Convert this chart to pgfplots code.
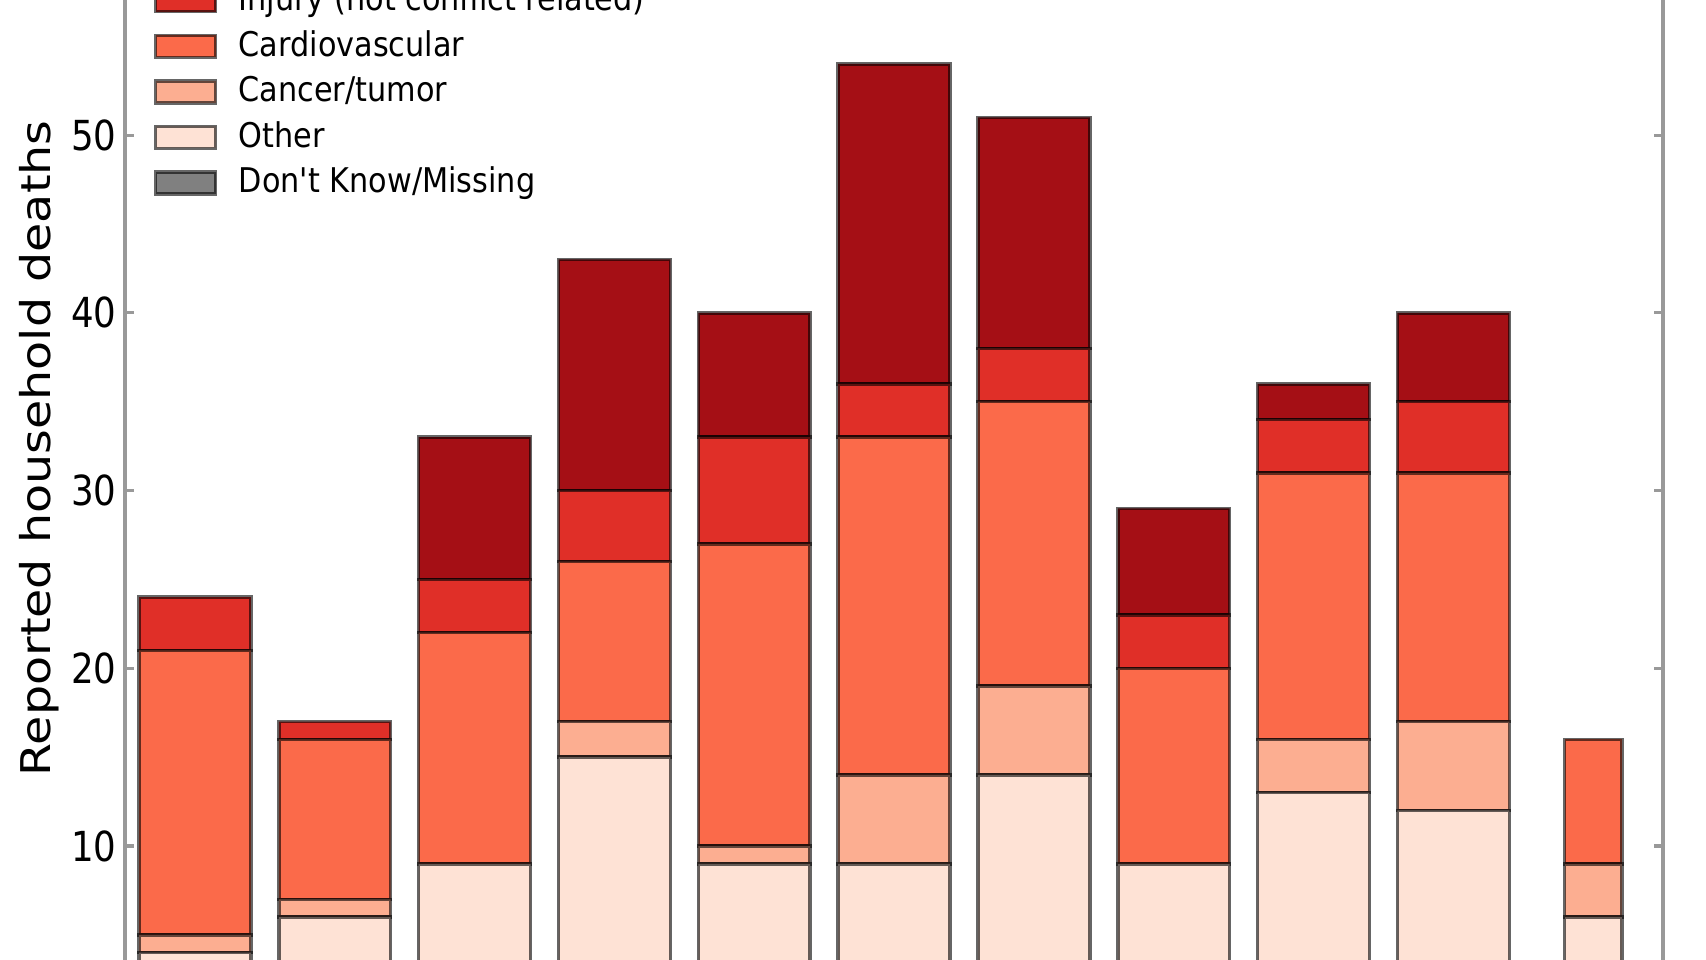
\documentclass[border=0pt]{standalone}
\usepackage{graphicx}
\usepackage{pgfplots}
\pgfplotsset{compat=1.18}
\usepackage{fontspec}
\setmainfont{DejaVu Sans}

\definecolor{cOther}{HTML}{FEE2D5}
\definecolor{cCancer}{HTML}{FCAE91}
\definecolor{cCardio}{HTML}{FB6A4A}
\definecolor{cInjury}{HTML}{E02F28}
\definecolor{cConflict}{HTML}{A50F15}
\definecolor{cDK}{HTML}{808080}

\pgfplotsset{
  seg/.style={fill=#1, draw=black, draw opacity=0.6, line width=0.9pt,
    legend image code/.code={\draw[fill=#1, draw=black, draw opacity=0.6, line width=0.9pt]
      (0cm,-0.1cm) rectangle (0.545cm,0.1cm);}},
  frame/.style={scale only axis, width=13.974cm, height=8.72cm,
    xmin=-0.5, xmax=10.5, ymin=3.6, ymax=57.6, ybar stacked},
}

\begin{document}
\begin{tikzpicture}
\begin{axis}[
  frame,
  bar width=1.016cm,
  separate axis lines,
  x axis line style={draw=none},
  y axis line style={draw=black!40, line width=1.1pt},
  xtick=\empty,
  ytick={10,20,30,40,50},
  /pgf/number format/assume math mode=true,
  yticklabel={\scalebox{0.86}[1]{\pgfmathprintnumber{\tick}}},
  yticklabel style={font=\fontsize{10.7}{12}\selectfont, anchor=east, inner sep=0pt, xshift=-0.07cm},
  ytick style={draw=black!40, line width=0.8pt},
  major tick length=0.08cm,
  ylabel={\scalebox{1.16}[1]{Reported household deaths}},
  every axis y label/.style={at={(axis description cs:-0.0555,0.533)}, anchor=center,
    rotate=90, font=\fontsize{10.6}{12}\selectfont},
]
% stacked from the bottom up
\addplot[seg=cDK] coordinates {(0,0) (1,0) (2,0) (3,0) (4,0) (5,0) (6,0) (7,0) (8,0) (9,0)};
\addplot[seg=cOther] coordinates {(0,4) (1,6) (2,9) (3,15) (4,9) (5,9) (6,14) (7,9) (8,13) (9,12)};
\addplot[seg=cCancer] coordinates {(0,1) (1,1) (2,0) (3,2) (4,1) (5,5) (6,5) (7,0) (8,3) (9,5)};
\addplot[seg=cCardio] coordinates {(0,16) (1,9) (2,13) (3,9) (4,17) (5,19) (6,16) (7,11) (8,15) (9,14)};
\addplot[seg=cInjury] coordinates {(0,3) (1,1) (2,3) (3,4) (4,6) (5,3) (6,3) (7,3) (8,3) (9,4)};
\addplot[seg=cConflict] coordinates {(0,0) (1,0) (2,8) (3,13) (4,7) (5,18) (6,13) (7,6) (8,2) (9,5)};
\coordinate (bl) at (rel axis cs:0,0);
\coordinate (tr) at (rel axis cs:1,1);
\end{axis}
% the last, narrower bar, and the legend
\begin{axis}[frame, hide axis, bar width=0.52cm,
  legend cell align=left,
  legend style={at={(axis description cs:0.0182,1.0184)}, anchor=north west,
    draw=none, fill=none, inner sep=0pt, row sep=0.094cm,
    font=\fontsize{8.8}{10}\selectfont,
    nodes={inner sep=0pt, text height=0.25cm, text depth=0.07cm},
    /tikz/every odd column/.append style={column sep=0.195cm}},
]
\addlegendimage{seg=cInjury}
\addlegendentry{\scalebox{0.89}[1]{Injury (not conflict related)}}
\addlegendimage{seg=cCardio}
\addlegendentry{\scalebox{0.89}[1]{Cardiovascular}}
\addlegendimage{seg=cCancer}
\addlegendentry{\scalebox{0.89}[1]{Cancer/tumor}}
\addlegendimage{seg=cOther}
\addlegendentry{\scalebox{0.89}[1]{Other}}
\addlegendimage{seg=cDK}
\addlegendentry{\scalebox{0.89}[1]{Don\textquotesingle t Know/Missing}}
\addplot[seg=cDK] coordinates {(10,0)};
\addplot[seg=cOther] coordinates {(10,6)};
\addplot[seg=cCancer] coordinates {(10,3)};
\addplot[seg=cCardio] coordinates {(10,7)};
\end{axis}
\pgfresetboundingbox
\path[use as bounding box] ([xshift=-1.136cm]bl) rectangle ([xshift=0.39cm]tr);
\end{tikzpicture}
\end{document}
